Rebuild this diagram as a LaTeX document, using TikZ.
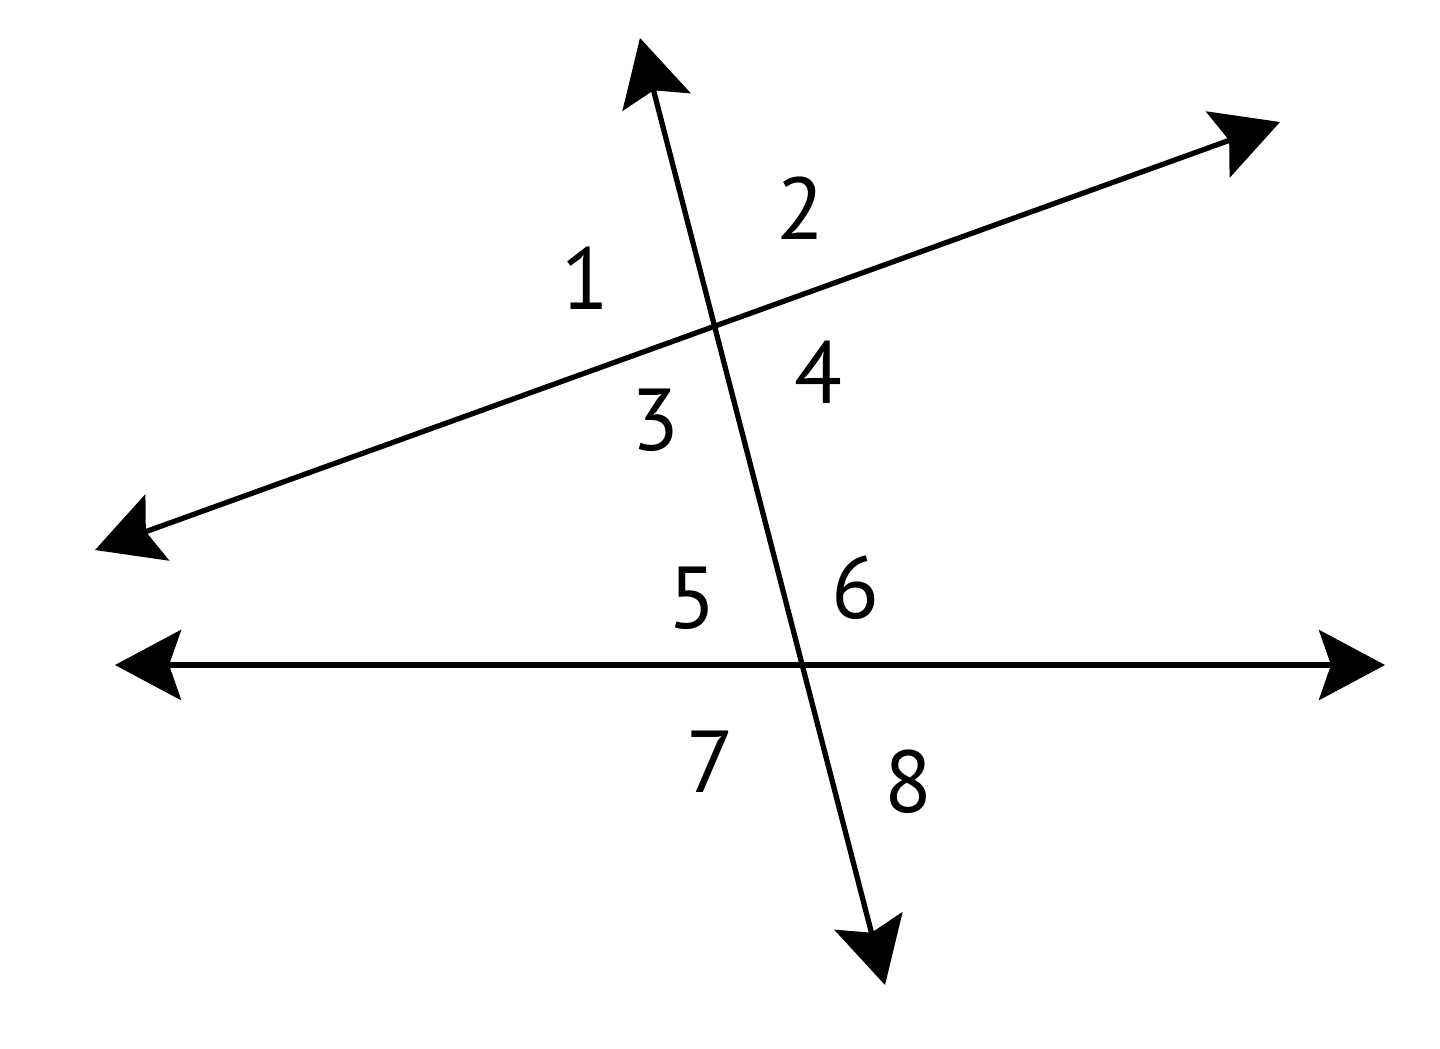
\documentclass[tikz,border=0pt]{standalone}
\usepackage{fontspec}
\setmainfont{PT Sans}
\usetikzlibrary{positioning}
\usetikzlibrary{arrows.meta}

\begin{document}
\begin{tikzpicture}[x=0.01cm,y=-0.01cm]
\tikzset{
  num/.style={text centered, text=black, font=\fontsize{25}{29}\selectfont, inner sep=0pt},
  line/.style={<->, >={Stealth[length=0.66cm,width=0.7cm,inset=0.12cm]}, line width=1.5pt, draw=black},
}
\useasboundingbox (0,0) rectangle (1440,1048);
% end points of the three lines
\coordinate (transTop) at (640,38);
\coordinate (transBot) at (885,985);
\coordinate (upperL) at (95,550);
\coordinate (upperR) at (1280,122);
\coordinate (lowerL) at (115,665);
\coordinate (lowerR) at (1385,665);
%
\path[line] (transTop) -- (transBot);
\path[line] (upperL) -- (upperR);
\path[line] (lowerL) -- (lowerR);
% angle numbers
\node[num] (a1) at (585,278) {1};
\node[num] (a2) at (800,208) {2};
\node[num] (a3) at (655,420) {3};
\node[num] (a4) at (818,372) {4};
\node[num] (a5) at (692,598) {5};
\node[num] (a6) at (855,588) {6};
\node[num] (a7) at (710,762) {7};
\node[num] (a8) at (908,782) {8};
\end{tikzpicture}
\end{document}
